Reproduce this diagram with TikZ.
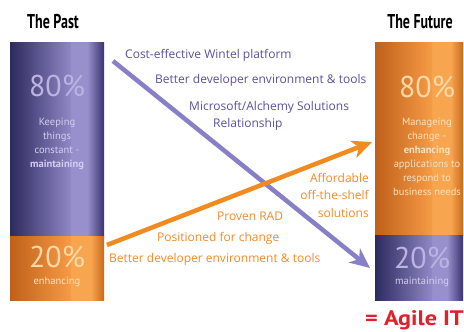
\documentclass[tikz,border=0pt]{standalone}
\usepackage{fontspec}
\setmainfont{PT Sans}
\newfontfamily\labfont{Open Sans}
\usetikzlibrary{arrows.meta}
\definecolor{pdark}{HTML}{2D2A5E}
\definecolor{plight}{HTML}{8E87C4}
\definecolor{plight2}{HTML}{9890CC}
\definecolor{pdark2}{HTML}{3A3470}
\definecolor{odark}{HTML}{C0601A}
\definecolor{olight}{HTML}{F59A45}
\definecolor{olight2}{HTML}{F8A550}
\definecolor{odark2}{HTML}{C86A1E}
\definecolor{ptext}{HTML}{5A529C}
\definecolor{otext}{HTML}{F08B2C}
\definecolor{parrowc}{HTML}{8880C6}
\definecolor{oarrowc}{HTML}{F28A22}
\definecolor{lav}{HTML}{B9B4E2}
\definecolor{lavtxt}{HTML}{D2CEF0}
\definecolor{peach}{HTML}{FCD9A8}
\definecolor{peachtxt}{HTML}{FDE3C2}
\definecolor{agile}{HTML}{E0202A}
\pgfdeclarehorizontalshading{purpbar}{100bp}{color(0bp)=(pdark); color(25bp)=(pdark); color(57bp)=(plight); color(57.5bp)=(plight2); color(66bp)=(plight2); color(75bp)=(pdark2); color(100bp)=(pdark2)}
\pgfdeclarehorizontalshading{orbar}{100bp}{color(0bp)=(odark); color(25bp)=(odark); color(57bp)=(olight); color(57.5bp)=(olight2); color(68bp)=(olight2); color(75bp)=(odark2); color(100bp)=(odark2)}
\tikzset{
  ttl/.style={font=\bfseries\fontsize{20}{22}\selectfont, text=black, inner sep=0pt},
  big/.style={font=\fontsize{30}{32}\selectfont, inner sep=0pt},
  small/.style={font=\fontsize{10.5}{14}\selectfont, align=center, inner sep=0pt},
  plab/.style={font=\labfont\fontsize{12}{13}\selectfont, text=ptext, anchor=west, inner sep=0pt},
  olab/.style={font=\labfont\fontsize{12}{13}\selectfont, text=otext, anchor=west, inner sep=0pt},
  parrow/.style={draw=parrowc, line width=4.5pt, -{Stealth[length=20pt,width=18pt,inset=6pt]}},
  oarrow/.style={draw=oarrowc, line width=4.5pt, -{Stealth[length=20pt,width=18pt,inset=6pt]}},
}
\begin{document}
\begin{tikzpicture}[x=1pt,y=-1pt]
\useasboundingbox (0,0) rectangle (464,332);
\fill[white] (0,0) rectangle (464,332);
\begin{scope}
\clip (0,0) rectangle (464,332);
% titles
\node[ttl] (pasttitle) at (53,22) {\scalebox{0.7}[1]{The Past}};
\node[ttl] (futtitle) at (420,22) {\scalebox{0.7}[1]{The Future}};
% bars
\shade[shading=purpbar] (10,42) rectangle (104,236);
\shade[shading=orbar] (10,236) rectangle (104,300);
\shade[shading=orbar] (375,42) rectangle (463,235);
\shade[shading=purpbar] (375,235) rectangle (463,300);
% left bar text
\node[big, text=lav] (p80) at (57,86) {80\%};
\node[small, text=lavtxt] (ptxt) at (57,144) {Keeping\\things\\constant -\\\textbf{maintaining}};
\node[big, text=peach] (p20) at (57,257) {20\%};
\node[small, text=peachtxt] (penh) at (57,282) {enhancing};
% right bar text
\node[big, text=peach] (f80) at (427,87) {80\%};
\node[small, text=peachtxt] (ftxt) at (427,157) {Manageing\\change -\\\textbf{enhancing}\\applications to\\respond to\\business needs};
\node[big, text=lav] (f20) at (422,258) {20\%};
\node[small, text=lavtxt] (fmaint) at (422,282) {maintaining};
% arrows
\coordinate (pstart) at (113,61);
\coordinate (pend) at (370,268);
\coordinate (ostart) at (107,245);
\coordinate (oend) at (372,142);
\draw[parrow] (pstart) -- (pend);
\draw[oarrow] (ostart) -- (oend);
% purple labels
\node[plab] (cost) at (125,55) {Cost-effective Wintel platform};
\node[plab] (bet1) at (155,80) {Better developer environment \& tools};
\node[plab] (ms) at (189,107) {Microsoft/Alchemy Solutions};
\node[plab] (rel) at (213,124) {Relationship};
% orange labels
\node[font=\labfont\fontsize{12}{17.5}\selectfont, text=otext, align=right, anchor=east, inner sep=0pt] (aff) at (369,195) {Affordable\\off-the-shelf\\solutions};
\node[olab] (rad) at (217,216) {Proven RAD};
\node[olab] (pos) at (157,238) {Positioned for change};
\node[olab] (bet2) at (109,259) {Better developer environment \& tools};
% agile
\node[font=\bfseries\fontsize{21}{23}\selectfont, text=agile, anchor=west, inner sep=0pt] (agileit) at (365,320) {\scalebox{1.15}[1]{= Agile IT}};
\end{scope}
\end{tikzpicture}
\end{document}
